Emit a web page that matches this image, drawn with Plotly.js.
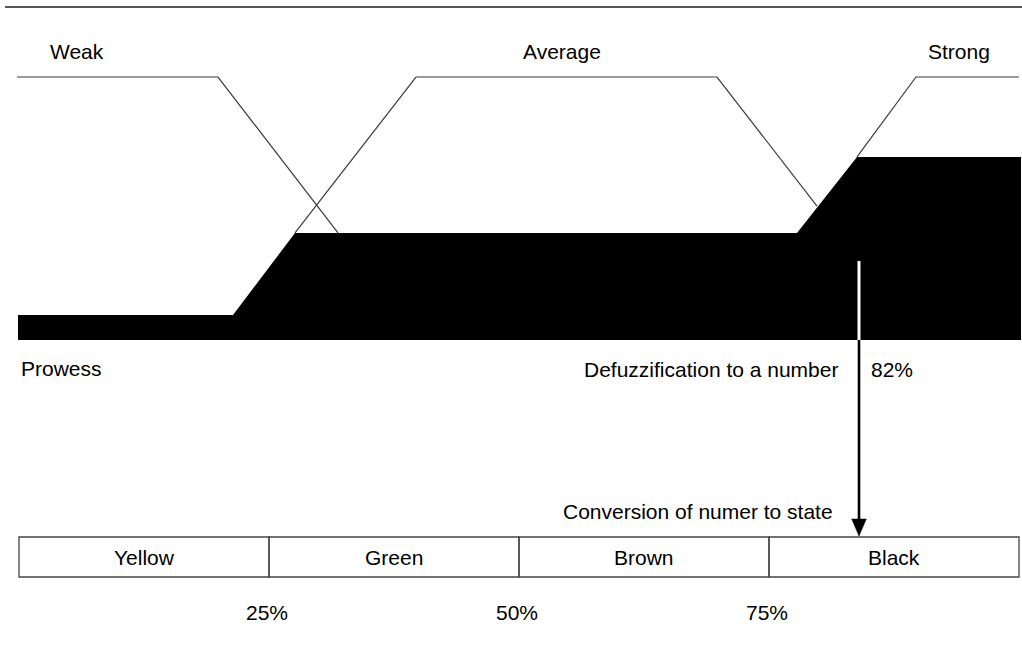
<!DOCTYPE html>
<html>
<head>
<meta charset="utf-8">
<script src="https://cdn.plot.ly/plotly-3.0.1.min.js"></script>
<style>html,body{margin:0;padding:0;background:#fff;}#chart{width:1022px;height:647px;}</style>
</head>
<body>
<div id="chart"></div>
<script>
// Membership functions (x in %, y = degree of membership)
const weakX = [-0.2, 19.9, 31.9];
const weakY = [1, 1, 0.407];
const averageX = [27.6, 39.7, 69.8, 79.8];
const averageY = [0.407, 1, 1, 0.509];
const strongX = [83.8, 89.7, 100];
const strongY = [0.696, 1, 1];
// Aggregated (clipped) output area
const outputX = [-0.1, 21.4, 27.6, 77.8, 83.8, 100.2];
const outputY = [0.095, 0.095, 0.407, 0.407, 0.696, 0.696];
// Defuzzified value
const crispX = 84.0;
const crispLabel = '82%';
// States
const states = ['Yellow', 'Green', 'Brown', 'Black'];
const stateEdges = [0, 25, 50, 75, 100];
const tickLabels = ['25%', '50%', '75%'];
const tickValues = [25, 50, 75];
const setLabels = ['Weak', 'Average', 'Strong'];

const W = 1022, H = 647;
const xRange = [-1.9, 100.3];
const yRange = [-1.1673, 1.2928];
const pxX = (W) / (xRange[1] - xRange[0]);      // px per x unit
const pxY = (H) / (yRange[1] - yRange[0]);      // px per y unit
const yOfPx = p => yRange[1] - p / pxY;

const font = {family: '"Liberation Sans", Arial, sans-serif', size: 21, color: '#000'};
const lineCol = '#3a3a3a';

const traces = [];
traces.push({x: weakX, y: weakY, mode: 'lines', line: {color: lineCol, width: 1.2}});
traces.push({x: averageX, y: averageY, mode: 'lines', line: {color: lineCol, width: 1.2}});
traces.push({x: strongX, y: strongY, mode: 'lines', line: {color: lineCol, width: 1.2}});
const xmaxOut = outputX[outputX.length - 1], xminOut = outputX[0];
traces.push({x: outputX.concat([xmaxOut, xminOut]), y: outputY.concat([0, 0]), mode: 'lines', fill: 'toself',
  fillcolor: '#000', line: {color: '#000', width: 0}});
// white defuzzification marker inside the area
traces.push({x: [crispX, crispX], y: [yOfPx(261), 0], mode: 'lines', line: {color: '#fff', width: 3}});
// arrow shaft
const headBase = yOfPx(519), headTip = yOfPx(536);
traces.push({x: [crispX, crispX], y: [0, headBase], mode: 'lines', line: {color: '#000', width: 2.6}});
const hw = 7.3 / pxX;
traces.push({x: [crispX - hw, crispX + hw, crispX, crispX - hw], y: [headBase, headBase, headTip, headBase],
  mode: 'lines', fill: 'toself', fillcolor: '#000', line: {color: '#000', width: 0.5}});

const boxTop = yOfPx(537), boxBot = yOfPx(577);
const shapes = [];
for (let i = 0; i < states.length; i++) {
  shapes.push({type: 'rect', xref: 'x', yref: 'y', x0: stateEdges[i], x1: stateEdges[i + 1],
    y0: boxBot, y1: boxTop, line: {color: '#444', width: 1.3}, fillcolor: 'rgba(0,0,0,0)'});
}
shapes.push({type: 'line', xref: 'paper', yref: 'paper', x0: 5 / W, x1: 1, y0: 1 - 7 / H, y1: 1 - 7 / H,
  line: {color: '#555', width: 2}});

const ann = [];
const A = (text, x, y, xanchor, extra) => Object.assign({text, x, y, xref: 'x', yref: 'y', xanchor, yanchor: 'middle',
  showarrow: false, font}, extra || {});
ann.push(A(setLabels[0], 2.9, yOfPx(51), 'left'));
ann.push(A(setLabels[1], 54.25, yOfPx(51), 'center'));
ann.push(A(setLabels[2], 97.3, yOfPx(51), 'right'));
ann.push(A('Prowess', 0.0, yOfPx(368), 'left'));
ann.push(A('Defuzzification to a number', 82.1, yOfPx(369), 'right'));
ann.push(A(crispLabel, 85.0, yOfPx(369), 'left'));
ann.push(A('Conversion of numer to state', 81.6, yOfPx(511), 'right'));
for (let i = 0; i < states.length; i++) {
  ann.push(A(states[i], (stateEdges[i] + stateEdges[i + 1]) / 2, (boxTop + boxBot) / 2, 'center'));
}
for (let i = 0; i < tickLabels.length; i++) {
  ann.push(A(tickLabels[i], tickValues[i], yOfPx(612), 'center', {xshift: -2.5}));
}

const layout = {
  width: W, height: H, margin: {l: 0, r: 0, t: 0, b: 0, pad: 0},
  paper_bgcolor: '#fff', plot_bgcolor: '#fff', showlegend: false, hovermode: false,
  xaxis: {range: xRange, visible: false, fixedrange: true},
  yaxis: {range: yRange, visible: false, fixedrange: true},
  shapes: shapes, annotations: ann, font: font
};
Plotly.newPlot('chart', traces, layout, {staticPlot: true, displayModeBar: false});
</script>
</body>
</html>
